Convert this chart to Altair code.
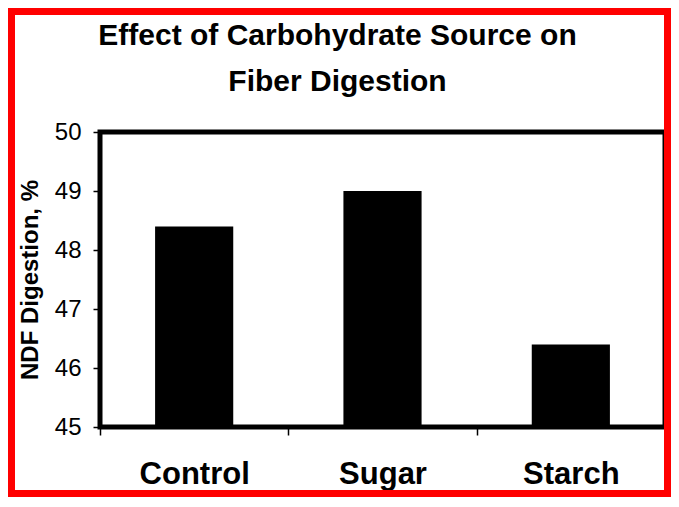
import altair as alt
import pandas as pd

categories = ["Control", "Sugar", "Starch"]
values = [48.4, 49.0, 46.4]
y_ticks = [45, 46, 47, 48, 49, 50]

df = pd.DataFrame({"source": categories, "ndf": values})

FONT = "Liberation Sans, Arial, sans-serif"

W, H = 565, 295

bars = alt.Chart(df).mark_bar(color="black", width=alt.RelativeBandSize(0.415)).encode(
    x=alt.X("source:N", sort=categories,
            scale=alt.Scale(paddingInner=0, paddingOuter=0),
            axis=alt.Axis(title=None, labelAngle=0, tickBand="extent",
                          domain=False, ticks=True, tickColor="black",
                          tickSize=8, tickWidth=1.5, labelPadding=24,
                          labelFont=FONT, labelFontSize=31, labelFontWeight="bold",
                          labelColor="black", grid=False)),
    y=alt.Y("ndf:Q", scale=alt.Scale(domain=[45, 50], clamp=True, nice=False, zero=False),
            axis=alt.Axis(title="NDF Digestion, %", values=y_ticks, domain=False,
                          tickColor="black", tickSize=7, tickWidth=1.5, labelPadding=12,
                          labelFont=FONT, labelFontSize=24, labelColor="black",
                          titleFont=FONT, titleFontSize=24, titleFontWeight="bold",
                          titleColor="black", titlePadding=12, grid=False)),
)

border = alt.Chart(df).mark_rect(fill=None, stroke="#ff0000", strokeWidth=7, clip=False).encode(
    x=alt.value(-88.5), x2=alt.value(567.5), y=alt.value(-120.5), y2=alt.value(361.5)
)

chart = alt.layer(border, bars).properties(
    width=W, height=H,
    title=alt.TitleParams(text=["Effect of Carbohydrate Source on", "Fiber Digestion"],
                          font=FONT, fontSize=30, fontWeight="bold", color="black",
                          anchor="middle", dx=-45, dy=88.5, offset=0, lineHeight=46),
    autosize=alt.AutoSizeParams(type="none"),
    padding={"left": 92, "top": 124, "right": 6, "bottom": 70},
    background="white",
).configure_view(stroke="black", strokeWidth=5)

chart.save("out.html", embed_options={"renderer": "svg", "actions": False})
